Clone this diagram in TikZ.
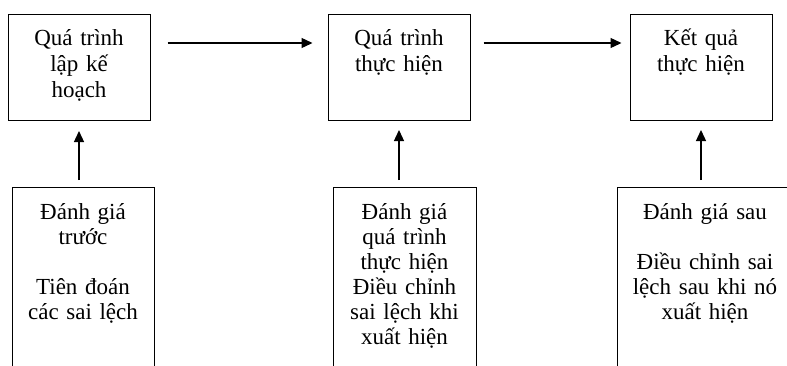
\documentclass[tikz,border=0pt]{standalone}
\usepackage{fontspec}
\setmainfont{Liberation Serif}
\usetikzlibrary{arrows.meta,positioning}
\tikzset{arr/.style={-{Triangle[length=11pt,width=10pt]},line width=1.3pt},
  box/.style={draw,line width=1pt,align=center,inner sep=0pt,anchor=north},
  stage/.style={box,text width=142pt,text height=31pt,text depth=75pt,font=\fontsize{23}{26}\selectfont},
  review/.style={box,text height=32pt,text depth=200pt,font=\fontsize{23}{25}\selectfont}}

\begin{document}
\begin{tikzpicture}[x=1pt,y=-1pt]
\clip (0,0) rectangle (787,365);
% process row
\node[stage] (plan) at (79,14) {Quá trình\\lập kế\\hoạch};
\node[stage] (exec) at (399,14) {Quá trình\\thực hiện};
\node[stage] (result) at (701,14) {Kết quả\\thực hiện};
% evaluation row (runs off the bottom)
\node[review,text width=142pt] (before) at (83,187) {Đánh giá\\trước\\[25pt]Tiên đoán\\các sai lệch};
\node[review,text width=143pt] (during) at (404.5,187) {Đánh giá\\quá trình\\thực hiện\\Điều chỉnh\\sai lệch khi\\xuất hiện};
\node[review,text width=176pt] (after) at (705,187) {Đánh giá sau\\[25pt]Điều chỉnh sai\\lệch sau khi nó\\xuất hiện};
\draw[arr,shorten <=17pt,shorten >=15pt] ([yshift=-29pt]plan.north east) -- ([yshift=-29pt]exec.north west);
\draw[arr,shorten <=13pt,shorten >=8pt] ([yshift=-29pt]exec.north east) -- ([yshift=-29pt]result.north west);
\draw[arr,shorten <=7pt,shorten >=10pt] (before.north -| plan.south) -- (plan.south);
\draw[arr,shorten <=7pt,shorten >=9pt] (during.north -| exec.south) -- (exec.south);
\draw[arr,shorten <=7pt,shorten >=9pt] (after.north -| result.south) -- (result.south);
\end{tikzpicture}
\end{document}
